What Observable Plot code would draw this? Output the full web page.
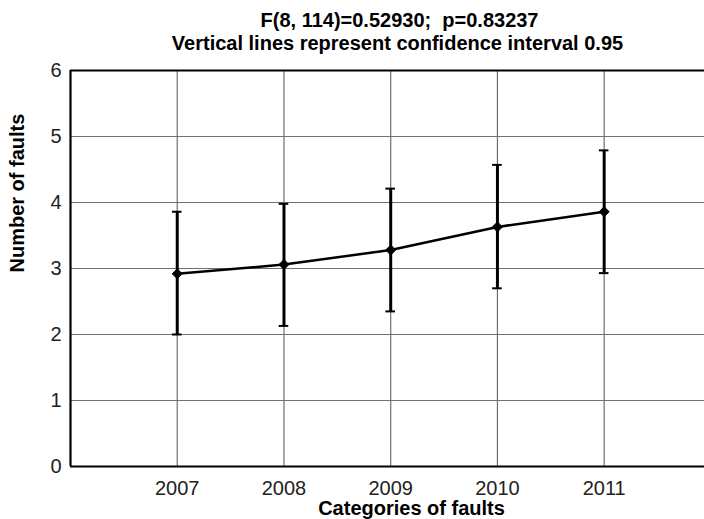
<!DOCTYPE html>
<html>
<head>
<meta charset="utf-8">
<script src="https://cdn.jsdelivr.net/npm/d3@7"></script>
<script src="https://cdn.jsdelivr.net/npm/@observablehq/plot@0.6"></script>
<style>
  html, body { margin: 0; padding: 0; background: #fff; }
</style>
</head>
<body>
<div id="chart"></div>
<script>
const years = [2007, 2008, 2009, 2010, 2011];
const means = [2.92, 3.06, 3.28, 3.63, 3.86];
const upper = [3.86, 3.98, 4.21, 4.57, 4.79];
const lower = [2.00, 2.13, 2.35, 2.70, 2.93];
const yTicks = [0, 1, 2, 3, 4, 5, 6];
const gridY = [1, 2, 3, 4, 5];
const titleLines = ["F(8, 114)=0.52930;  p=0.83237", "Vertical lines represent confidence interval 0.95"];
const xLabel = "Categories of faults";
const yLabel = "Number of faults";

const data = years.map((y, i) => ({year: y, mean: means[i], hi: upper[i], lo: lower[i]}));
const capHalf = 0.045;

const chart = Plot.plot({
  width: 704,
  height: 519,
  marginLeft: 70,
  marginRight: 0,
  marginTop: 70,
  marginBottom: 53,
  style: {fontFamily: "'Liberation Sans', Arial, sans-serif", fontSize: "20px", background: "#fff", color: "#000"},
  x: {domain: [2006, 2011.94], ticks: years, tickFormat: d3.format("d")},
  y: {domain: [0, 6], ticks: yTicks, tickFormat: d3.format("d")},
  marks: [
    Plot.ruleY(gridY, {stroke: "#707070", strokeWidth: 1.2}),
    Plot.ruleX(years, {stroke: "#707070", strokeWidth: 1.2}),
    Plot.ruleY([0, 6], {stroke: "#000", strokeWidth: 2.2}),
    Plot.ruleX([2006], {stroke: "#000", strokeWidth: 2.2}),
    Plot.axisX({ticks: years, tickFormat: d3.format("d"), tickSize: 0, tickPadding: 14, label: null, fontSize: 20, fill: "#222"}),
    Plot.axisY({ticks: yTicks, tickFormat: d3.format("d"), tickSize: 0, tickPadding: 9, label: null, fontSize: 20, fill: "#222"}),
    Plot.ruleX(data, {x: "year", y1: "lo", y2: "hi", stroke: "#000", strokeWidth: 3}),
    Plot.ruleY(data, {y: "hi", x1: d => d.year - capHalf, x2: d => d.year + capHalf, stroke: "#000", strokeWidth: 2}),
    Plot.ruleY(data, {y: "lo", x1: d => d.year - capHalf, x2: d => d.year + capHalf, stroke: "#000", strokeWidth: 2}),
    Plot.line(data, {x: "year", y: "mean", stroke: "#000", strokeWidth: 2.5}),
    Plot.dot(data, {x: "year", y: "mean", symbol: "diamond2", r: 4.5, fill: "#000", stroke: "#000", strokeWidth: 1}),
    Plot.text([titleLines[0]], {frameAnchor: "top", dx: 12, dy: -50, lineAnchor: "middle", fontWeight: "bold", fontSize: 20}),
    Plot.text([titleLines[1]], {frameAnchor: "top", dx: 10, dy: -27, lineAnchor: "middle", fontWeight: "bold", fontSize: 20}),
    Plot.text([xLabel], {frameAnchor: "bottom", dx: 24, dy: 42, lineAnchor: "middle", fontWeight: "bold", fontSize: 20}),
    Plot.text([yLabel], {frameAnchor: "left", dx: -53, dy: 4, rotate: -90, lineAnchor: "middle", fontWeight: "bold", fontSize: 20})
  ]
});
document.getElementById("chart").appendChild(chart);
</script>
</body>
</html>
